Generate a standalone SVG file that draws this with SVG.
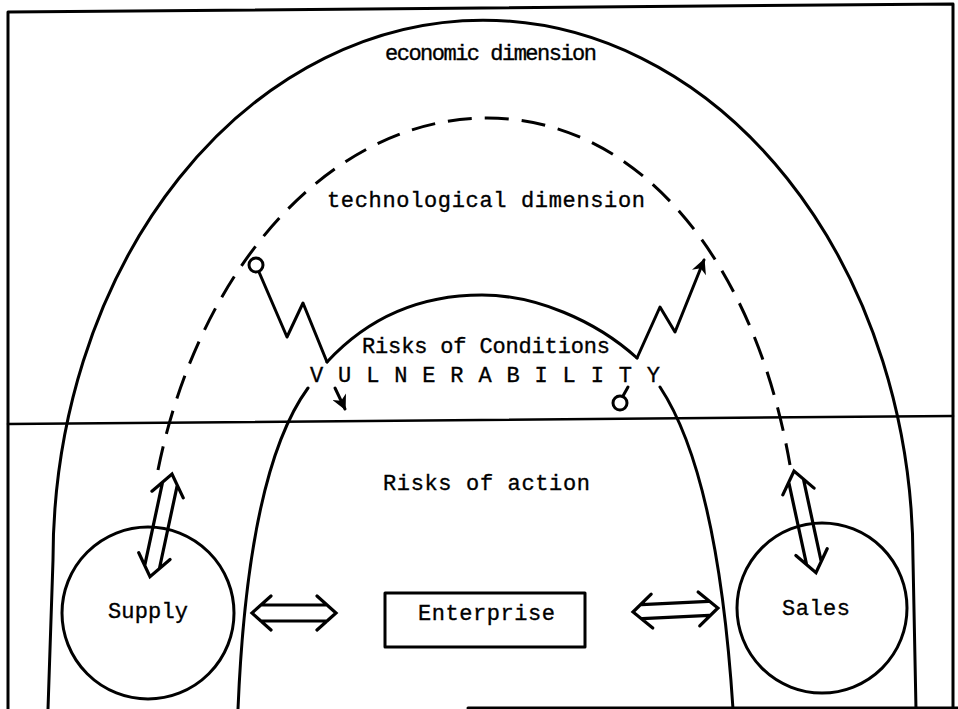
<svg xmlns="http://www.w3.org/2000/svg" width="958" height="709" viewBox="0 0 958 709">
<style>
.ln{fill:none;stroke:#000;stroke-width:3;stroke-linecap:round;stroke-linejoin:round}
.dash{fill:none;stroke:#000;stroke-width:3;stroke-dasharray:24 13}
.t{font-family:"Liberation Mono","Courier New",monospace;font-size:22px;fill:#000;stroke:#000;stroke-width:0.35}
.dbl{fill:none;stroke:#000;stroke-width:3.2;stroke-linecap:round;stroke-linejoin:miter}
</style>
<defs>
<marker id="ah" viewBox="0 0 10 10" refX="9" refY="5" markerWidth="19" markerHeight="15" orient="auto" markerUnits="userSpaceOnUse">
<path d="M0,0 L10,5 L0,10 L3,5 z" fill="#000"/>
</marker>
</defs>
<rect width="958" height="709" fill="#fff"/>
<g id="frame" class="ln">
<path d="M8,709 V12 L953,4 V707 M468,708 H958"/>
<path d="M8,424 L953,416" stroke-width="2.5"/>
</g>
<g id="arches">
<path id="economic" class="ln" d="M48,709 L53,560 A430,540 0 0 1 913,560 L916,709"/>
<path id="technological" class="dash" d="M158,470 C200,262 335,118 487,118 C640,118 755,262 790,465"/>
<path id="conditions-top" class="ln" d="M327,362 C375,310 430,295 482,295 C535,295 595,320 637,358"/>
<path id="conditions-left" class="ln" d="M308,388 C270,440 245,540 238,709"/>
<path id="conditions-right" class="ln" d="M660,387 C695,440 722,540 733,709"/>
</g>
<g id="texts">
<text class="t" x="385" y="60" textLength="212">economic dimension</text>
<text class="t" x="327" y="207" textLength="318">technological dimension</text>
<text class="t" x="362" y="353" textLength="248">Risks of Conditions</text>
<text class="t" x="310" y="382" textLength="350">V U L N E R A B I L I T Y</text>
<text class="t" x="383" y="490" textLength="207">Risks of action</text>
</g>
<g id="supply">
<circle class="ln" cx="148" cy="613" r="86"/>
<text class="t" x="108" y="618" textLength="80">Supply</text>
</g>
<g id="enterprise">
<rect class="ln" x="385" y="593" width="200" height="54"/>
<text class="t" x="418" y="620" textLength="137">Enterprise</text>
</g>
<g id="sales">
<circle class="ln" cx="822" cy="608" r="85"/>
<text class="t" x="782" y="615" textLength="68">Sales</text>
</g>
<g id="connectors">
<path class="dbl" transform="translate(252,613)" d="M19,-17 L0,0 L19,17 M65,-17 L84,0 L65,17 M9,-8 H75 M9,8 H75"/>
<path class="dbl" transform="translate(633,612) rotate(-2.7)" d="M19,-17 L0,0 L19,17 M66,-17 L85,0 L66,17 M9,-7 H76 M9,7 H76"/>
<path class="dbl" transform="translate(172,474) rotate(102.1)" d="M21,-16 L0,0 L21,16 M84,-16 L105,0 L84,16 M10,-7.5 H95 M10,7.5 H95"/>
<path class="dbl" transform="translate(794,471) rotate(77.8)" d="M21,-16 L0,0 L21,16 M83,-16 L104,0 L83,16 M10,-7.5 H94 M10,7.5 H94"/>
<circle class="ln" cx="256" cy="265" r="7"/>
<path class="ln" d="M259,272 L287,337 L303,303 L327,362"/>
<path class="ln" d="M637,358 L660,307 L675,332 L704,260" marker-end="url(#ah)"/>
<path class="ln" d="M335,388 L345,409" marker-end="url(#ah)"/>
<circle class="ln" cx="620" cy="403" r="7"/>
<path class="ln" d="M623,396 L628,387"/>
</g>
</svg>
